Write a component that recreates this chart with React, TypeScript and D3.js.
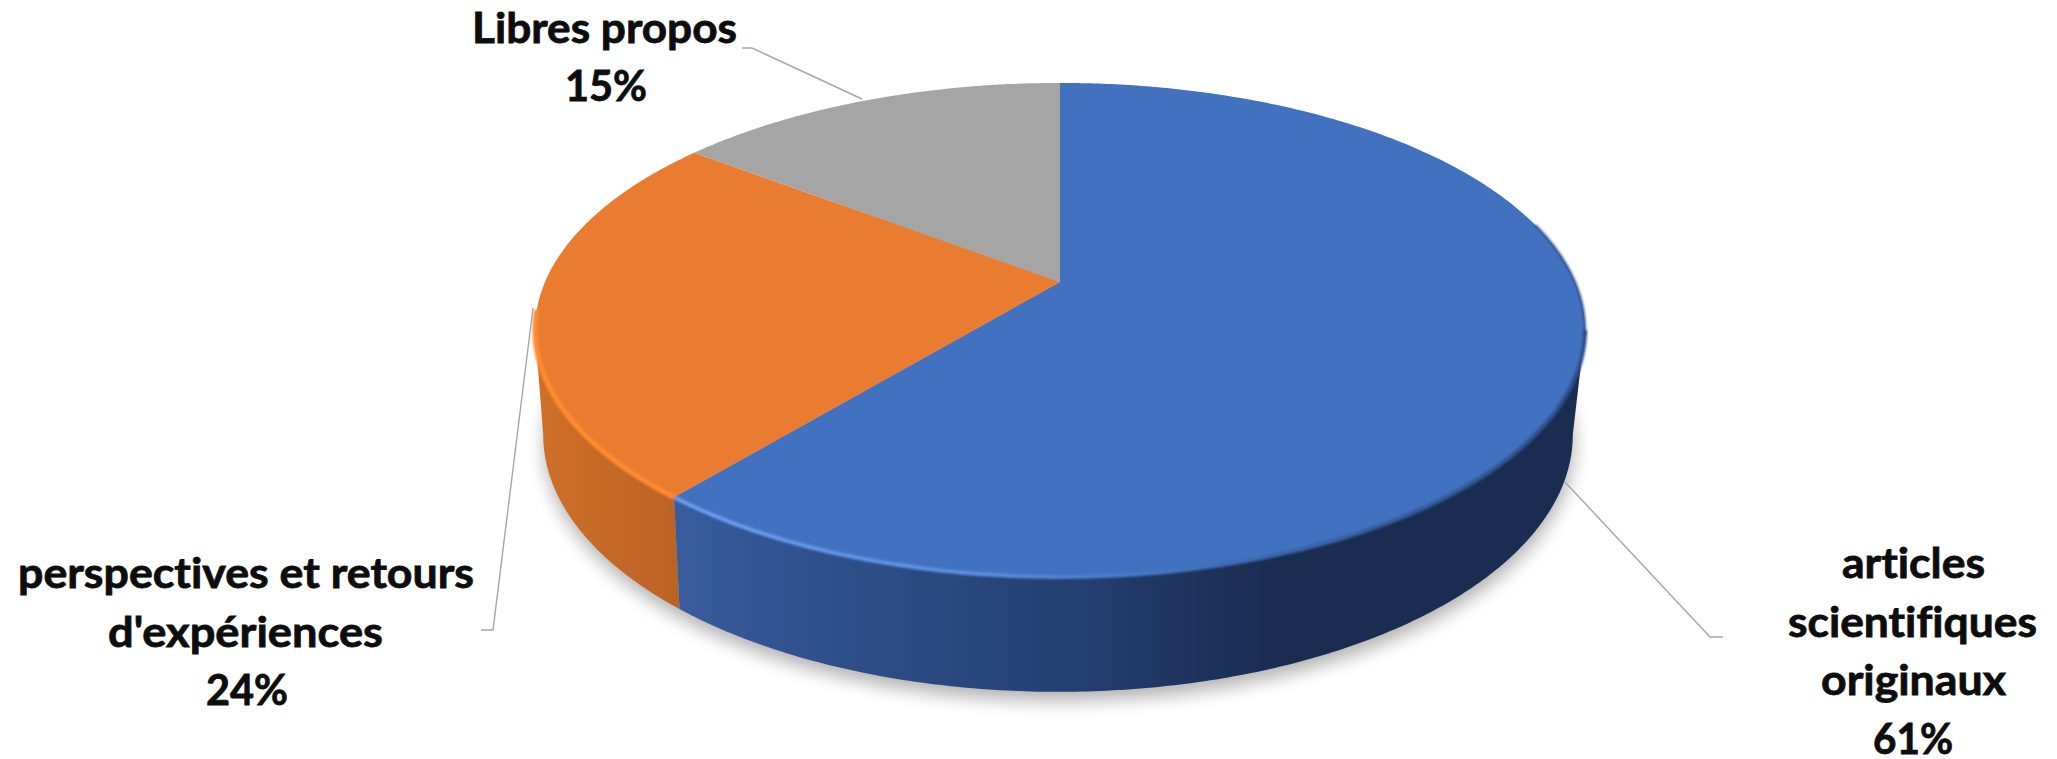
import React from "react";
import * as d3 from "d3";

// ---------- data ----------
const categories = ["articles scientifiques originaux", "perspectives et retours d'expériences", "Libres propos"];
const shares = [61, 24.4, 14.6];
const topColors = ["#4271bf", "#ea7c31", "#a5a5a5"];
const labelLines = [
  ["articles", "scientifiques", "originaux"],
  ["perspectives et retours", "d'expériences"],
  ["Libres propos"],
];

// ---------- layout ----------
const W = 2057;
const H = 759;
const TAU = Math.PI * 2;
const P = 0.194; // perspective strength of the tilted disc
const topDisc = { x0: 1060, y0: 282, kx: 515, ky: 237.7 };
const botDisc = { x0: 1058, y0: 385, kx: 505, ky: 247.3 };

type Disc = typeof topDisc;
const project = (d: Disc, a: number): [number, number] => {
  const u = Math.sin(a);
  const v = -Math.cos(a);
  const w = 1 - P * v;
  return [d.x0 + (d.kx * u) / w, d.y0 + (d.ky * v) / w];
};
const sample = (a0: number, a1: number) => {
  const n = Math.max(2, Math.ceil(Math.abs(a1 - a0) / 0.01));
  return d3.range(n + 1).map((i) => a0 + ((a1 - a0) * i) / n);
};
const line = d3.line<[number, number]>().x((p) => p[0]).y((p) => p[1]);

const arcs = d3
  .pie<number>()
  .value((d) => d)
  .sort(null)
  .startAngle(0)
  .endAngle(TAU)(shares);

// the disc's silhouette: its widest points under the perspective
const FRONT_START = Math.PI - Math.acos(P);
const FRONT_END = Math.PI + Math.acos(P);

const wall = (a0: number, a1: number) => {
  const as = sample(a0, a1);
  const pts = [...as.map((a) => project(topDisc, a)), ...as.slice().reverse().map((a) => project(botDisc, a))];
  return line(pts) + "Z";
};
const wedge = (a0: number, a1: number) =>
  line([[topDisc.x0, topDisc.y0], ...sample(a0, a1).map((a) => project(topDisc, a))]) + "Z";
const rim = (d: Disc, a0: number, a1: number) => line(sample(a0, a1).map((a) => project(d, a))) || "";

const textLayouts = [
  { rows: [{ x0: 1842, x1: 1985, y: 578 }, { x0: 1788, x1: 2037, y: 637 }, { x0: 1821, x1: 2006, y: 695 }, { x0: 1873, x1: 1953, y: 754 }] },
  { rows: [{ x0: 18, x1: 474, y: 588 }, { x0: 108, x1: 383, y: 647 }, { x0: 206, x1: 288, y: 705 }] },
  { rows: [{ x0: 472, x1: 737, y: 43 }, { x0: 565, x1: 647, y: 101 }] },
];
const leaders: [number, number][][] = [
  [[1565, 482], [1710, 637], [1723, 637]],
  [[533, 308], [493, 630], [481, 630]],
  [[862, 99], [752, 48], [742, 48]],
];

const pct = d3.format(".0f");

export default function App() {
  const blue = arcs[0];
  const orange = arcs[1];
  const shadowPath = rim(botDisc, 0, TAU) + "Z";
  return (
    <svg
      width={W}
      height={H}
      viewBox={`0 0 ${W} ${H}`}
      style={{ position: "absolute", left: 0, top: 0, display: "block", background: "#fff" }}
    >
      <defs>
        <filter id="shadow" x="-10%" y="-10%" width="120%" height="125%">
          <feGaussianBlur stdDeviation="9" />
        </filter>
        <filter id="soft" x="-5%" y="-5%" width="110%" height="110%">
          <feGaussianBlur stdDeviation="1.1" />
        </filter>
        <linearGradient id="blueWall" gradientUnits="userSpaceOnUse" x1="672" x2="1585" y1="0" y2="0">
          <stop offset="0" stopColor="#385c9e" />
          <stop offset="0.18" stopColor="#2f4f8a" />
          <stop offset="0.45" stopColor="#243e70" />
          <stop offset="0.65" stopColor="#1a2d51" />
          <stop offset="1" stopColor="#1a2d51" />
        </linearGradient>
        <linearGradient id="orangeWall" gradientUnits="userSpaceOnUse" x1="535" x2="680" y1="0" y2="0">
          <stop offset="0" stopColor="#cf7029" />
          <stop offset="1" stopColor="#bb6226" />
        </linearGradient>
        <linearGradient id="blueRim" gradientUnits="userSpaceOnUse" x1="672" x2="1585" y1="0" y2="0">
          <stop offset="0" stopColor="#6d9ff0" />
          <stop offset="0.35" stopColor="#5a8ce2" />
          <stop offset="0.5" stopColor="#4878cc" />
          <stop offset="0.68" stopColor="#3a62a8" />
          <stop offset="1" stopColor="#2c4d88" />
        </linearGradient>
      </defs>

      {/* soft drop shadow below the pie */}
      <path d={shadowPath} fill="#000" opacity={0.3} filter="url(#shadow)" transform="translate(1 9)" />

      {/* side walls */}
      <path d={wall(blue.endAngle, FRONT_END)} fill="url(#orangeWall)" />
      <path d={wall(FRONT_START, blue.endAngle)} fill="url(#blueWall)" />

      {/* top face */}
      {arcs.map((a, i) => (
        <path key={categories[i]} d={wedge(a.startAngle, a.endAngle)} fill={topColors[i]} />
      ))}

      {/* bevel highlight on the front rim, dark edge on the far right */}
      <path
        d={rim(topDisc, FRONT_START - 0.45, FRONT_START + 0.02)}
        fill="none"
        stroke="#2c4d88"
        strokeWidth={2}
        filter="url(#soft)"
      />
      <path
        d={rim(topDisc, FRONT_START, blue.endAngle)}
        fill="none"
        stroke="url(#blueRim)"
        strokeWidth={4}
        filter="url(#soft)"
      />
      <path
        d={rim(topDisc, orange.startAngle, FRONT_END + 0.08)}
        fill="none"
        stroke="#ff8b30"
        strokeWidth={5}
        filter="url(#soft)"
      />

      {/* leader lines */}
      {leaders.map((l, i) => (
        <path key={i} d={line(l) || ""} fill="none" stroke="#a6a6a6" strokeWidth={1.4} />
      ))}

      {/* labels */}
      {labelLines.map((rows, i) =>
        [...rows, `${pct(shares[i])}%`].map((txt, j) => {
          const r = textLayouts[i].rows[j];
          return (
            <text
              key={txt}
              x={r.x0}
              y={r.y}
              textLength={r.x1 - r.x0}
              lengthAdjust="spacingAndGlyphs"
              fontFamily="Lato, 'Open Sans', sans-serif"
              fontWeight={700}
              fontSize={42}
              fill="#0d0d0d"
              stroke="#0d0d0d"
              strokeWidth={0.8}
              style={{ fontVariantLigatures: "none" }}
            >
              {txt}
            </text>
          );
        })
      )}
    </svg>
  );
}
